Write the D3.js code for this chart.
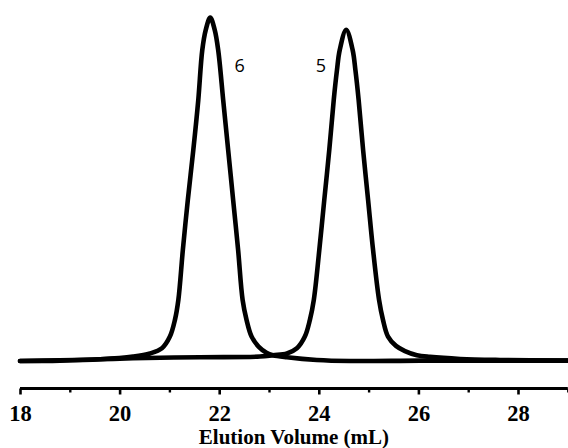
<!DOCTYPE html>
<html>
<head>
<meta charset="utf-8">
<script src="https://cdn.jsdelivr.net/npm/d3@7"></script>
<style>
  html, body { margin: 0; padding: 0; background: #fff; }
  svg { display: block; }
</style>
</head>
<body>
<svg id="chart" width="568" height="448"></svg>
<script>
// ---- data (elution volume in mL, detector response normalized) ----
const xTicksMajor = [18, 20, 22, 24, 26, 28];
const xTicksMinor = [19, 21, 23, 25, 27, 29];
const xTitle = "Elution Volume (mL)";

const volume6 = [18.00, 18.80, 19.61, 20.27, 20.61, 20.85, 21.01, 21.11, 21.18, 21.27, 21.37, 21.48, 21.58, 21.66, 21.73, 21.82, 21.91, 21.98, 22.08, 22.18, 22.28, 22.38, 22.47, 22.55, 22.65, 22.79, 22.95, 23.08, 23.36, 23.96, 24.63, 26.03, 27.64, 29.00];
const signal6 = [0.0, 0.1, 0.5, 1.3, 2.2, 3.7, 7.1, 11.9, 17.8, 32.3, 46.9, 61.4, 76.0, 90.5, 96.4, 100.0, 96.4, 90.5, 76.0, 61.4, 46.9, 32.3, 17.8, 11.9, 7.1, 4.2, 2.4, 1.7, 1.1, 0.3, 0.0, 0.1, 0.1, 0.1];

const volume5 = [18.00, 18.80, 19.61, 20.27, 21.61, 22.82, 23.08, 23.36, 23.56, 23.72, 23.82, 23.90, 24.01, 24.11, 24.21, 24.30, 24.365, 24.42, 24.55, 24.68, 24.735, 24.80, 24.89, 24.99, 25.09, 25.21, 25.29, 25.39, 25.55, 25.73, 25.97, 26.23, 26.84, 27.64, 29.00];
const signal5 = [0.0, 0.2, 0.5, 0.8, 1.1, 1.3, 1.7, 2.2, 3.7, 7.1, 11.9, 17.8, 32.3, 46.9, 61.4, 76.0, 84.7, 90.5, 96.4, 90.5, 84.7, 76.0, 61.4, 46.9, 32.3, 17.8, 11.9, 7.1, 4.4, 2.9, 1.7, 1.2, 0.6, 0.3, 0.1];

const peakLabels = ["6", "5"];
const labelVolume = [22.41, 24.04];
const labelSignal = [84.0, 84.1];

// ---- layout ----
const svg = d3.select("#chart");
const x = d3.scaleLinear().domain([18, 29]).range([20, 567.8]);
const y = d3.scaleLinear().domain([0, 100]).range([361, 17.5]);
const axisY = 388.5;

const line = d3.line()
  .x(d => x(d[0]))
  .y(d => y(d[1]))
  .curve(d3.curveCatmullRom.alpha(0.5));

const series = [
  d3.zip(volume6, signal6),
  d3.zip(volume5, signal5)
];

svg.selectAll("path.trace")
  .data(series)
  .join("path")
  .attr("class", "trace")
  .attr("d", line)
  .attr("fill", "none")
  .attr("stroke", "#000")
  .attr("stroke-width", 4.6)
  .attr("stroke-linejoin", "round")
  .attr("stroke-linecap", "round");

// peak labels
svg.selectAll("text.peak")
  .data(peakLabels)
  .join("text")
  .attr("class", "peak")
  .attr("x", (d, i) => x(labelVolume[i]))
  .attr("y", (d, i) => y(labelSignal[i]))
  .attr("text-anchor", "middle")
  .attr("font-family", "'Open Sans', 'DejaVu Sans', sans-serif")
  .attr("font-size", 18)
  .attr("fill", "#000")
  .text(d => d);

// x axis (major)
const axisMajor = d3.axisBottom(x)
  .tickValues(xTicksMajor)
  .tickSize(6)
  .tickPadding(11)
  .tickFormat(d3.format("d"));

const gMajor = svg.append("g")
  .attr("transform", `translate(0,${axisY})`)
  .call(axisMajor);
gMajor.select(".domain")
  .attr("stroke", "#000")
  .attr("stroke-width", 3)
  .attr("d", `M${x(18)},0H${x(29)}`);
gMajor.selectAll(".tick line").attr("stroke", "#000").attr("stroke-width", 2.6);
gMajor.selectAll(".tick text")
  .attr("fill", "#000")
  .attr("font-family", "'Liberation Serif', 'Times New Roman', serif")
  .attr("font-weight", "bold")
  .attr("font-size", 22.5);

// x axis (minor)
const axisMinor = d3.axisBottom(x)
  .tickValues(xTicksMinor)
  .tickSize(4)
  .tickFormat("");
const gMinor = svg.append("g")
  .attr("transform", `translate(0,${axisY})`)
  .call(axisMinor);
gMinor.select(".domain").remove();
gMinor.selectAll(".tick line").attr("stroke", "#000").attr("stroke-width", 2.4);

// axis title
svg.append("text")
  .attr("x", (x(18) + x(29)) / 2)
  .attr("y", 444)
  .attr("text-anchor", "middle")
  .attr("font-family", "'Liberation Serif', 'Times New Roman', serif")
  .attr("font-weight", "bold")
  .attr("font-size", 21)
  .attr("fill", "#000")
  .text(xTitle);
</script>
</body>
</html>
